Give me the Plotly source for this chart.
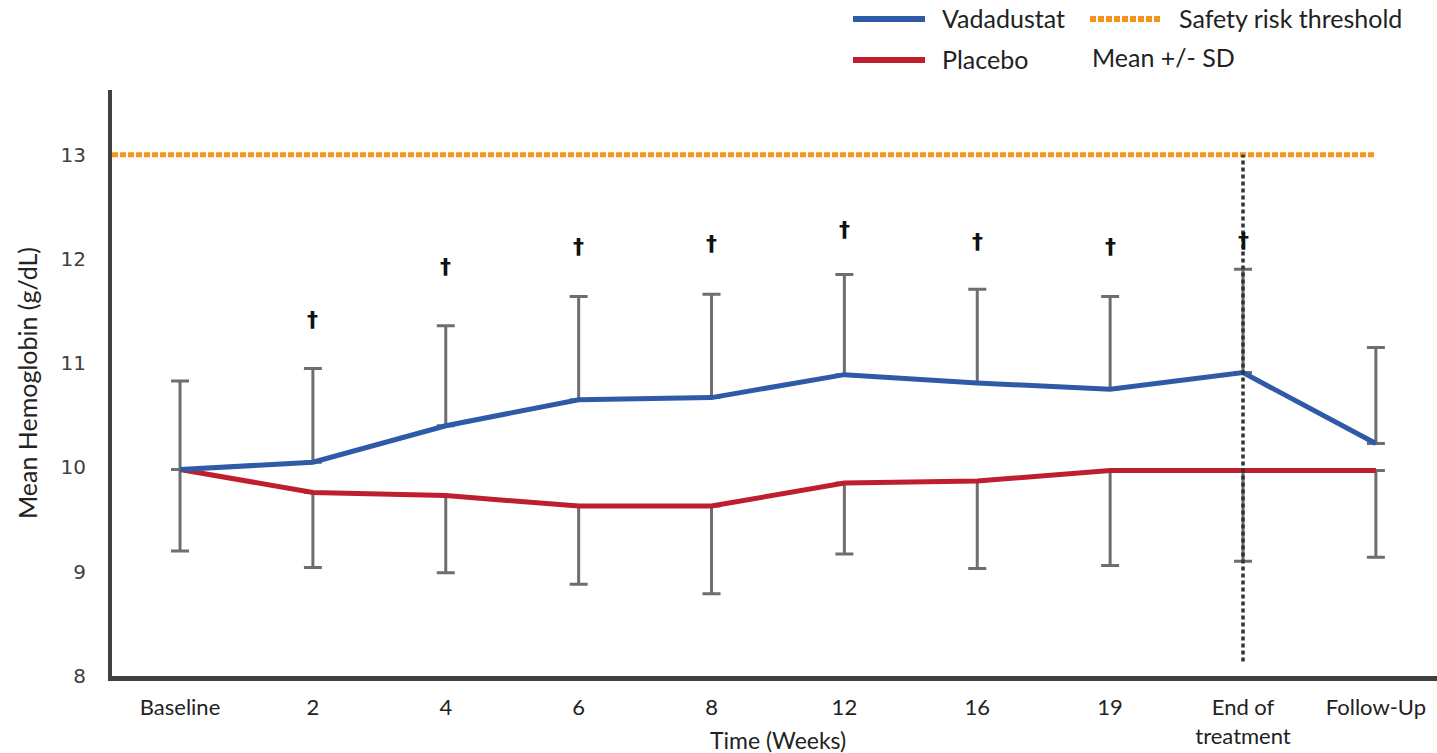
import plotly.graph_objects as go

# Visit labels along the time axis
visits = ["Baseline", "2", "4", "6", "8", "12", "16", "19", "End of<br>treatment", "Follow-Up"]

# Mean hemoglobin (g/dL) and standard deviation per visit
vadadustat_mean = [9.98, 10.05, 10.40, 10.65, 10.67, 10.89, 10.81, 10.75, 10.91, 10.23]
vadadustat_sd = [0.85, 0.90, 0.96, 0.99, 0.99, 0.96, 0.90, 0.89, 0.99, 0.92]
placebo_mean = [9.98, 9.76, 9.73, 9.63, 9.63, 9.85, 9.87, 9.97, 9.97, 9.97]
placebo_sd = [0.78, 0.72, 0.74, 0.75, 0.84, 0.68, 0.84, 0.91, 0.87, 0.83]

# Significance markers (dagger heights above the bars)
dagger_y = [None, 11.42, 11.93, 12.12, 12.15, 12.28, 12.17, 12.12, 12.18, None]

safety_threshold = 13.0
end_of_treatment_idx = 8
eot_line_bottom = 8.14

y_ticks = [8, 9, 10, 11, 12, 13]

# Page geometry (pixels)
W, H = 1437, 753
L, R, T, B = 112, 0, 90, 77
PW, PH = W - L - R, H - T - B


def px(x):
    return (x - L) / PW


def py(y):
    return (H - B - y) / PH


BLUE = "#2E5AA8"
RED = "#BE1E2D"
ORANGE = "#F7941D"
GREY = "#6E6E6E"
AXIS = "#404040"
FONT = "Lato"

x = list(range(len(visits)))
x_lo, x_hi = -0.512, 9.46

fig = go.Figure()

# Error bars: +SD for vadadustat, -SD for placebo
fig.add_trace(go.Scatter(
    x=x, y=vadadustat_mean, mode="markers",
    marker=dict(size=1, color="rgba(0,0,0,0)"),
    error_y=dict(type="data", symmetric=False, array=vadadustat_sd,
                 arrayminus=[0] * len(x), color=GREY, thickness=3, width=9),
    hoverinfo="skip", showlegend=False))
fig.add_trace(go.Scatter(
    x=x, y=placebo_mean, mode="markers",
    marker=dict(size=1, color="rgba(0,0,0,0)"),
    error_y=dict(type="data", symmetric=False, array=[0] * len(x),
                 arrayminus=placebo_sd, color=GREY, thickness=3, width=9),
    hoverinfo="skip", showlegend=False))

# Safety risk threshold
fig.add_trace(go.Scatter(
    x=[x_lo, x[-1]], y=[safety_threshold, safety_threshold], mode="lines",
    line=dict(color=ORANGE, width=5, dash="6px,2px"),
    hoverinfo="skip", showlegend=False))

# Mean lines
fig.add_trace(go.Scatter(
    x=x, y=placebo_mean, mode="lines", line=dict(color=RED, width=5),
    name="Placebo", showlegend=False))
fig.add_trace(go.Scatter(
    x=x, y=vadadustat_mean, mode="lines", line=dict(color=BLUE, width=5),
    name="Vadadustat", showlegend=False))

# End of treatment marker line
fig.add_trace(go.Scatter(
    x=[end_of_treatment_idx, end_of_treatment_idx], y=[eot_line_bottom, safety_threshold],
    mode="lines", line=dict(color="#333333", width=3.5, dash="4px,3px"),
    hoverinfo="skip", showlegend=False))

annotations = []
for xi, dy in zip(x, dagger_y):
    if dy is None:
        continue
    annotations.append(dict(x=xi, y=dy, xref="x", yref="y", text="<b>†</b>", showarrow=False,
                            font=dict(family="DejaVu Sans", size=22, color="#111111")))

# Legend, drawn manually in a 2x2 grid
shapes = [
    dict(type="line", xref="paper", yref="paper", x0=px(853), x1=px(925), y0=py(19), y1=py(19),
         line=dict(color=BLUE, width=6)),
    dict(type="line", xref="paper", yref="paper", x0=px(853), x1=px(925), y0=py(60), y1=py(60),
         line=dict(color=RED, width=6)),
    dict(type="line", xref="paper", yref="paper", x0=px(1090), x1=px(1160), y0=py(19), y1=py(19),
         line=dict(color=ORANGE, width=6, dash="6px,2px")),
]
legend_text = [
    ("Vadadustat", 940, 18),
    ("Safety risk threshold", 1177, 18),
    ("Placebo", 940, 59),
    ("Mean +/- SD", 1090, 57),
]
for txt, lx, ly in legend_text:
    annotations.append(dict(x=px(lx), y=py(ly), xref="paper", yref="paper", text=txt,
                            showarrow=False, xanchor="left", yanchor="middle",
                            font=dict(family=FONT, size=25, color="#222222")))

# Axis titles
annotations.append(dict(x=px(778), y=py(740), xref="paper", yref="paper", text="Time (Weeks)",
                        showarrow=False, xanchor="center", yanchor="middle",
                        font=dict(family=FONT, size=23, color="#222222")))
annotations.append(dict(x=px(27), y=py(383), xref="paper", yref="paper",
                        text="Mean Hemoglobin (g/dL)", textangle=-90,
                        showarrow=False, xanchor="center", yanchor="middle",
                        font=dict(family=FONT, size=25, color="#222222")))

fig.update_layout(
    width=W, height=H,
    margin=dict(l=L, r=R, t=T, b=B, pad=0),
    paper_bgcolor="white", plot_bgcolor="white",
    showlegend=False,
    shapes=shapes,
    annotations=annotations,
    xaxis=dict(
        range=[x_lo, x_hi], tickmode="array", tickvals=x, ticktext=visits,
        showgrid=False, zeroline=False, automargin=False,
        showline=True, linecolor=AXIS, linewidth=5,
        ticks="outside", ticklen=8, tickcolor="rgba(0,0,0,0)",
        tickfont=dict(family=FONT, size=22, color="#222222"),
    ),
    yaxis=dict(
        range=[8, 13.62], tickmode="array", tickvals=y_ticks,
        showgrid=False, zeroline=False, automargin=False,
        showline=True, linecolor=AXIS, linewidth=4,
        ticks="outside", ticklen=18, tickcolor="rgba(0,0,0,0)",
        tickfont=dict(family="DejaVu Sans", size=20, color="#404040"),
    ),
)

fig.write_html("out.html")
